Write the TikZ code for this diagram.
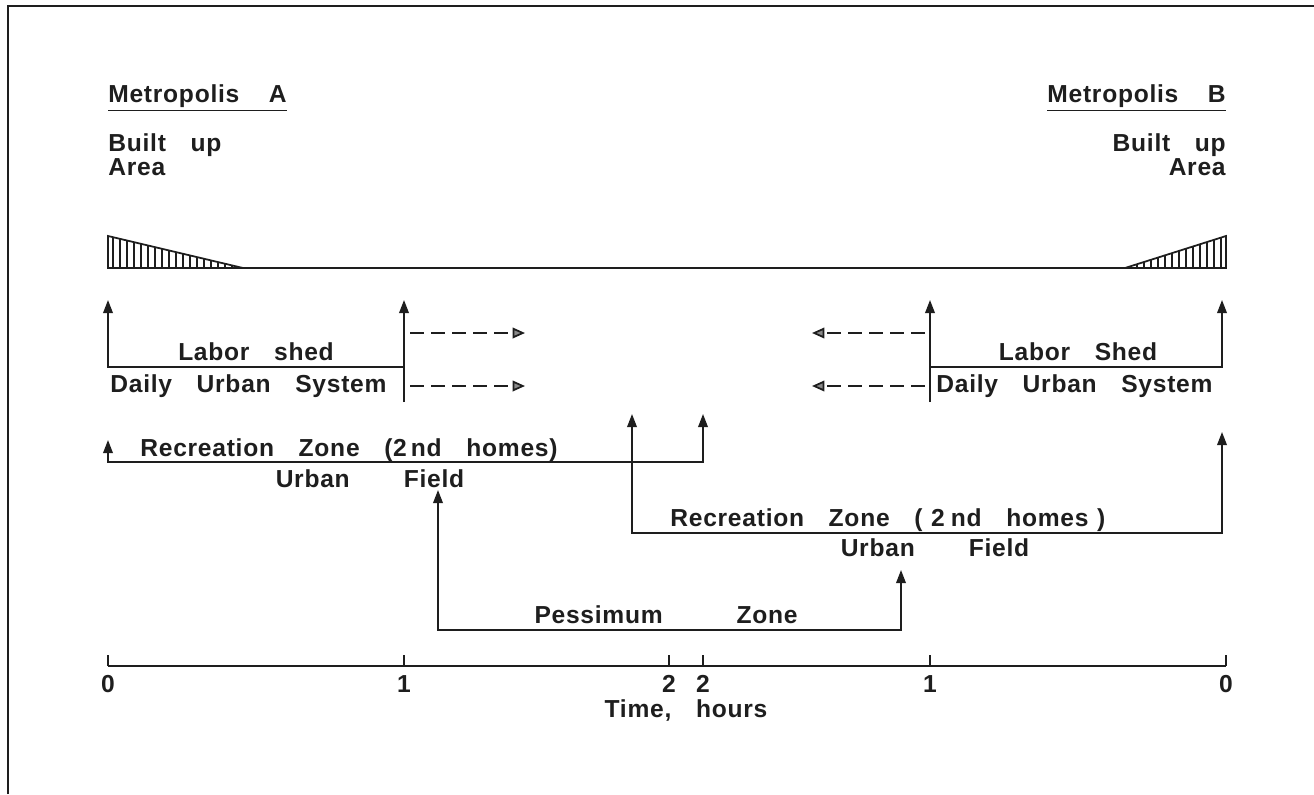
\documentclass[tikz,border=0pt]{standalone}
\usepackage{fontspec}
\setmainfont{Liberation Sans}[LetterSpace=3]
\usetikzlibrary{arrows.meta,positioning,calc}
\definecolor{Ink}{HTML}{1E1E1E}
\definecolor{TipGray}{HTML}{8A8A8A}
\newcommand{\mapfont}{\fontsize{14}{13.6}\selectfont\bfseries\spaceskip 1em\relax}

\begin{document}
\begin{tikzpicture}[x=0.02cm,y=-0.02cm,
 every node/.style={font=\mapfont,inner sep=0pt,text=Ink},
 zone/.style={line width=1pt,draw=Ink},
 tipA/.style={zone,{Triangle[length=7.5pt,width=5.5pt]}-},
 tipB/.style={zone,-{Triangle[length=7.5pt,width=5.5pt]}},
 tipAB/.style={zone,{Triangle[length=7.5pt,width=5.5pt]}-{Triangle[length=7.5pt,width=5.5pt]}},
 reach/.style={zone,dash pattern=on 8pt off 4pt,-{Triangle[length=7pt,width=6pt,fill=TipGray]}}]
\useasboundingbox (0,0) rectangle (1314,794);
\draw[line width=1.2pt,Ink] (8,794) -- (8,6) -- (1314,6);

% time axis
\coordinate (A0) at (108,666);
\coordinate (A1) at (404,666);
\coordinate (A2) at (669,666);
\coordinate (B2) at (703,666);
\coordinate (B1) at (930,666);
\coordinate (B0) at (1226,666);
\draw[zone] (A0) -- (B0);
\foreach \t/\h in {A0/0,A1/1,A2/2,B2/2,B1/1,B0/0} {
 \draw[zone] (\t) -- ++(0,-11);
 \node (lab\t) at ($(\t)+(0,18)$) {\h};
}
\node (time) at (686,710) {Time, hours};

% headings
\node[anchor=west] (metA) at (108,98) {\underline{Metropolis\hspace{1.2em}A}};
\node[anchor=east] (metB) at (1226,98) {\underline{Metropolis\hspace{1.2em}B}};
\node[anchor=west,align=left] (buA) at (108,155) {Built up\\Area};
\node[anchor=east,align=right] (buB) at (1226,155) {Built up\\Area};

% built up wedges
\coordinate (wA) at (243,268);
\coordinate (wB) at (1125,268);
\draw[zone] (108,236) -- (wA) -- (108,268) -- cycle;
\draw[zone] (1226,236) -- (wB) -- (1226,268) -- cycle;
\begin{scope}
 \clip (108,236) -- (wA) -- (108,268) -- cycle;
 \foreach \x in {113,120,...,241} \draw[line width=1.2pt,Ink] (\x,230) -- (\x,268);
\end{scope}
\begin{scope}
 \clip (1226,236) -- (wB) -- (1226,268) -- cycle;
 \foreach \x in {1221,1214,...,1125} \draw[line width=1.2pt,Ink] (\x,230) -- (\x,268);
\end{scope}
\draw[zone] (108,268) -- (1226,268);

% labor sheds
\draw[tipA] (108,300) -- (108,367) -- (404,367);
\draw[tipB] (404,402) -- (404,300);
\draw[tipA] (1222,300) -- (1222,367) -- (930,367);
\draw[tipB] (930,402) -- (930,300);
\node (lsA) at (256,352) {Labor shed};
\node[anchor=west] (dusA) at (110,386) {Daily Urban System};
\node (lsB) at (1078,352) {Labor Shed};
\node[anchor=west] (dusB) at (936,386) {Daily Urban System};
\foreach \y in {333,386} {
 \draw[reach] (410,\y) -- (525,\y);
 \draw[reach] (925,\y) -- (812,\y);
}

% recreation zones
\draw[tipAB] (108,440) -- (108,462) -- (703,462) -- (703,414);
\node[anchor=west] (rzA) at (140,450) {Recreation Zone (2\,nd homes)};
\node (ufA) at (370,479) {Urban\hspace{2.2em}Field};
\draw[tipAB] (632,414) -- (632,533) -- (1222,533) -- (1222,432);
\node[anchor=west] (rzB) at (670,520) {Recreation Zone (\hspace{0.35em}2\hspace{0.25em}nd homes\hspace{0.35em})};
\node (ufB) at (935,548) {Urban\hspace{2.2em}Field};

% pessimum zone
\draw[tipAB] (438,490) -- (438,630) -- (901,630) -- (901,570);
\node (pz) at (666,615) {Pessimum\hspace{3em}Zone};
\end{tikzpicture}
\end{document}
